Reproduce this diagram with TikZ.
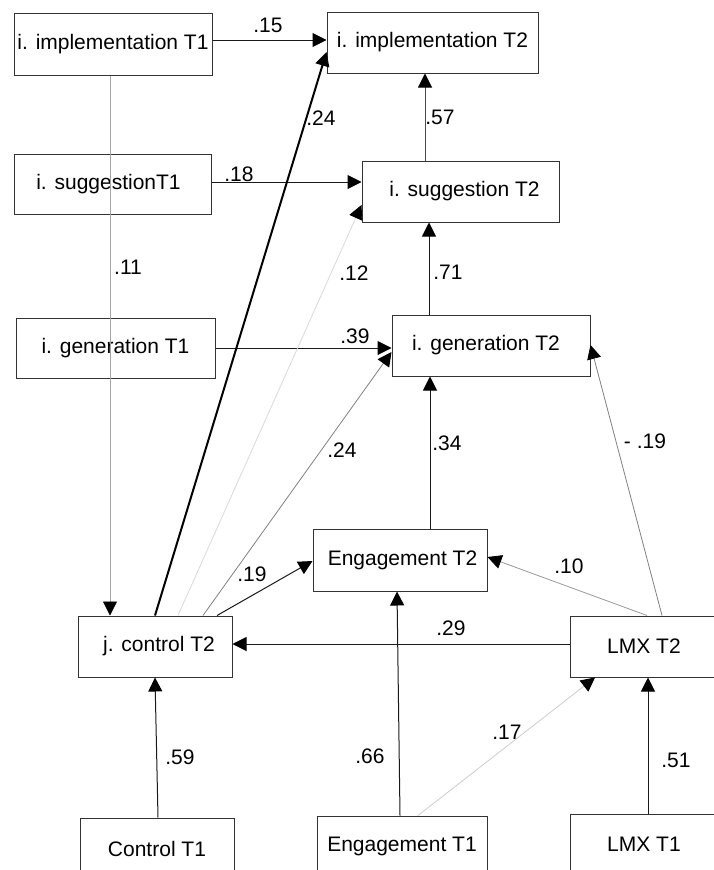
\documentclass[tikz,border=0pt]{standalone}
\usepackage{fontspec}
\setmainfont{Liberation Sans}
\usetikzlibrary{arrows.meta,calc}
\begin{document}
\begin{tikzpicture}[x=1pt,y=-1pt,
  box/.style={draw=black!80, line width=1pt, minimum height=61pt, inner sep=0pt, font=\fontsize{21}{25}\selectfont},
  lab/.style={inner sep=0pt, font=\fontsize{21}{25}\selectfont},
  arr/.style={line width=1pt, draw=black!90, -{Triangle[length=14pt,width=14pt,color=black]}},
  thickarr/.style={line width=2pt, draw=black, -{Triangle[length=14pt,width=14pt,color=black]}},
  grayarr/.style={line width=0.8pt, draw=#1, -{Triangle[length=14pt,width=14pt,color=black]}},
  grayarr/.default={black!45}]
\useasboundingbox (0,0) rectangle (714,870);
\clip (0,0) rectangle (714,870);

% boxes
\node[box, minimum width=198pt, minimum height=62pt] (i1) at (113,44) {i. implementation T1};
\node[box, minimum width=197pt, minimum height=60pt] (s1) at (112.5,184) {\hspace*{-8pt}i. suggestionT1};
\node[box, minimum width=199pt, minimum height=60pt] (g1) at (115.5,348) {i. generation T1};
\node[box, minimum width=211pt] (i2) at (432.5,42.5) {i. implementation T2};
\node[box, minimum width=197pt] (s2) at (460.5,191.5) {\hspace*{8pt}i. suggestion T2};
\node[box, minimum width=198pt] (g2) at (491,345.5) {\hspace*{-10pt}i. generation T2};
\node[box, minimum width=174pt, minimum height=62pt] (e2) at (400,560) {\hspace*{5pt}Engagement T2};
\node[box, minimum width=154pt] (jc) at (155,646.5) {\hspace*{8pt}j. control T2};
\node[box, minimum width=170pt] (l2) at (655,646.5) {\hspace*{-22pt}LMX T2};
\node[box, minimum width=154pt] (c1) at (157,848.5) {Control T1};
\node[box, minimum width=170pt] (e1) at (402,846.5) {Engagement T1};
\node[box, minimum width=170pt] (l1) at (655,844.5) {\hspace*{-22pt}LMX T1};

% connectors
\draw[arr] ([yshift=4pt]i1.east) -- ([yshift=4pt]i1.east -| i2.west);
\draw[arr] ([yshift=2pt]s1.east) -- ([yshift=2pt]s1.east -| s2.west);
\draw[arr] (g1.east) -- (g1.east -| g2.west);
\draw[grayarr=black!35] ([xshift=-3pt]i1.south) -- ([xshift=-3pt]i1.south |- jc.north);
\draw[arr, draw=black!70] ([xshift=-35.5pt]s2.north) -- ([xshift=-35.5pt]s2.north |- i2.south);
\draw[arr] ([xshift=-62pt]g2.north) -- ([xshift=-62pt]g2.north |- s2.south);
\draw[arr] ([xshift=30pt]e2.north) -- ([xshift=30pt]e2.north |- g2.south);
\draw[thickarr] (jc.north) -- ([yshift=-9.5pt]i2.west);
\draw[grayarr=black!15] ([xshift=23pt]jc.north) -- ([yshift=-13.5pt]s2.west);
\draw[grayarr=black!50] ([xshift=48pt]jc.north) -- ([yshift=-6.5pt]g2.west);
\draw[arr] ([xshift=62pt]jc.north) -- ([yshift=-1pt]e2.west);
\draw[arr] ([yshift=2.5pt]l2.west) -- ([yshift=2.5pt]l2.west -| jc.east);
\draw[grayarr=black!40] ([xshift=-8pt]l2.north) -- ([yshift=3pt]e2.east);
\draw[grayarr=black!50] ([xshift=7pt]l2.north) -- ([yshift=0.5pt]g2.east);
\draw[arr] ([xshift=-2pt]e1.north) -- ([xshift=-3pt]e2.south);
\draw[grayarr=black!20] ([xshift=16pt]e1.north) -- ([xshift=-60pt]l2.south);
\draw[arr] ([xshift=-7pt]l1.north) -- ([xshift=-7pt]l2.south);
\draw[arr] ([xshift=1pt]c1.north) -- (jc.south);

% labels
\node[lab] (n15) at (268,25) {.15};
\node[lab] (n18) at (239,174) {.18};
\node[lab] (n39) at (355,336) {.39};
\node[lab] (n11) at (128,267) {.11};
\node[lab] (n57) at (440,117) {.57};
\node[lab] (n71) at (448,272) {.71};
\node[lab] (n34) at (447,443) {.34};
\node[lab] (n24a) at (321,118) {.24};
\node[lab] (n12) at (354,273) {.12};
\node[lab] (n24b) at (342,450) {.24};
\node[lab] (n19) at (252,574) {.19};
\node[lab] (n29) at (451,628) {.29};
\node[lab] (n10) at (569,566) {.10};
\node[lab] (nm19) at (645,441) {- .19};
\node[lab] (n66) at (370,756) {.66};
\node[lab] (n17) at (507,732) {.17};
\node[lab] (n51) at (676,760) {.51};
\node[lab] (n59) at (180,757) {.59};
\end{tikzpicture}
\end{document}
